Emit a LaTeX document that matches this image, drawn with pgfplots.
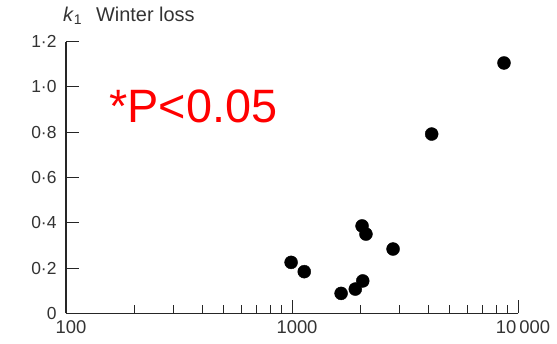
\documentclass[border=0pt]{standalone}
\usepackage{fontspec}
\setmainfont{Liberation Sans}
\usepackage{pgfplots}
\pgfplotsset{compat=1.18}
\begin{document}
\begin{tikzpicture}
\path[use as bounding box] (-66bp,-30.7bp) rectangle (491bp,313.3bp);
\begin{axis}[
  at={(0,0)}, anchor=south west,
  scale only axis, width=452bp, height=271.6bp,
  xmode=log, log basis x=10,
  xmin=100, xmax=10000, ymin=0, ymax=1.2,
  axis x line=bottom, axis y line=left,
  axis line style={-, line width=1.3bp, black!85},
  xtick={100,1000,10000}, xticklabels={100,1000,10\,000},
  minor xtick={200,300,400,500,600,700,800,900,2000,3000,4000,5000,6000,7000,8000,9000},
  ytick={0,0.2,0.4,0.6,0.8,1.0,1.2},
  yticklabels={0,0·2,0·4,0·6,0·8,1·0,1·2},
  tick style={black!85, line width=1bp},
  major tick length=13bp, minor tick length=8bp,
  tick align=inside,
  ticklabel style={font=\fontsize{17.5}{17.5}\selectfont, text=black!80},
  xticklabel style={font=\fontsize{18.5}{18.5}\selectfont, xshift=5bp, yshift=-4bp},
  yticklabel style={xshift=-6bp},
  clip=false,
]
\addplot[only marks, mark=*, mark size=6.5bp, black] coordinates {
  (8670,1.106) (4150,0.792) (2042,0.386) (2124,0.350) (2800,0.284)
  (991,0.225) (1133,0.184) (2056,0.143) (1906,0.107) (1649,0.088)
};
\node[anchor=base west, text=red, font=\fontsize{47}{47}\selectfont, inner sep=0pt] at (axis cs:155,0.845) {*P<0.05};
\node[anchor=base west, inner sep=0pt, text=black!80, font=\fontsize{20}{20}\selectfont] at (rel axis cs:-0.007,1.074) {\textit{k}\textsubscript{1}\hspace{14bp}Winter loss};
\end{axis}
\end{tikzpicture}
\end{document}
